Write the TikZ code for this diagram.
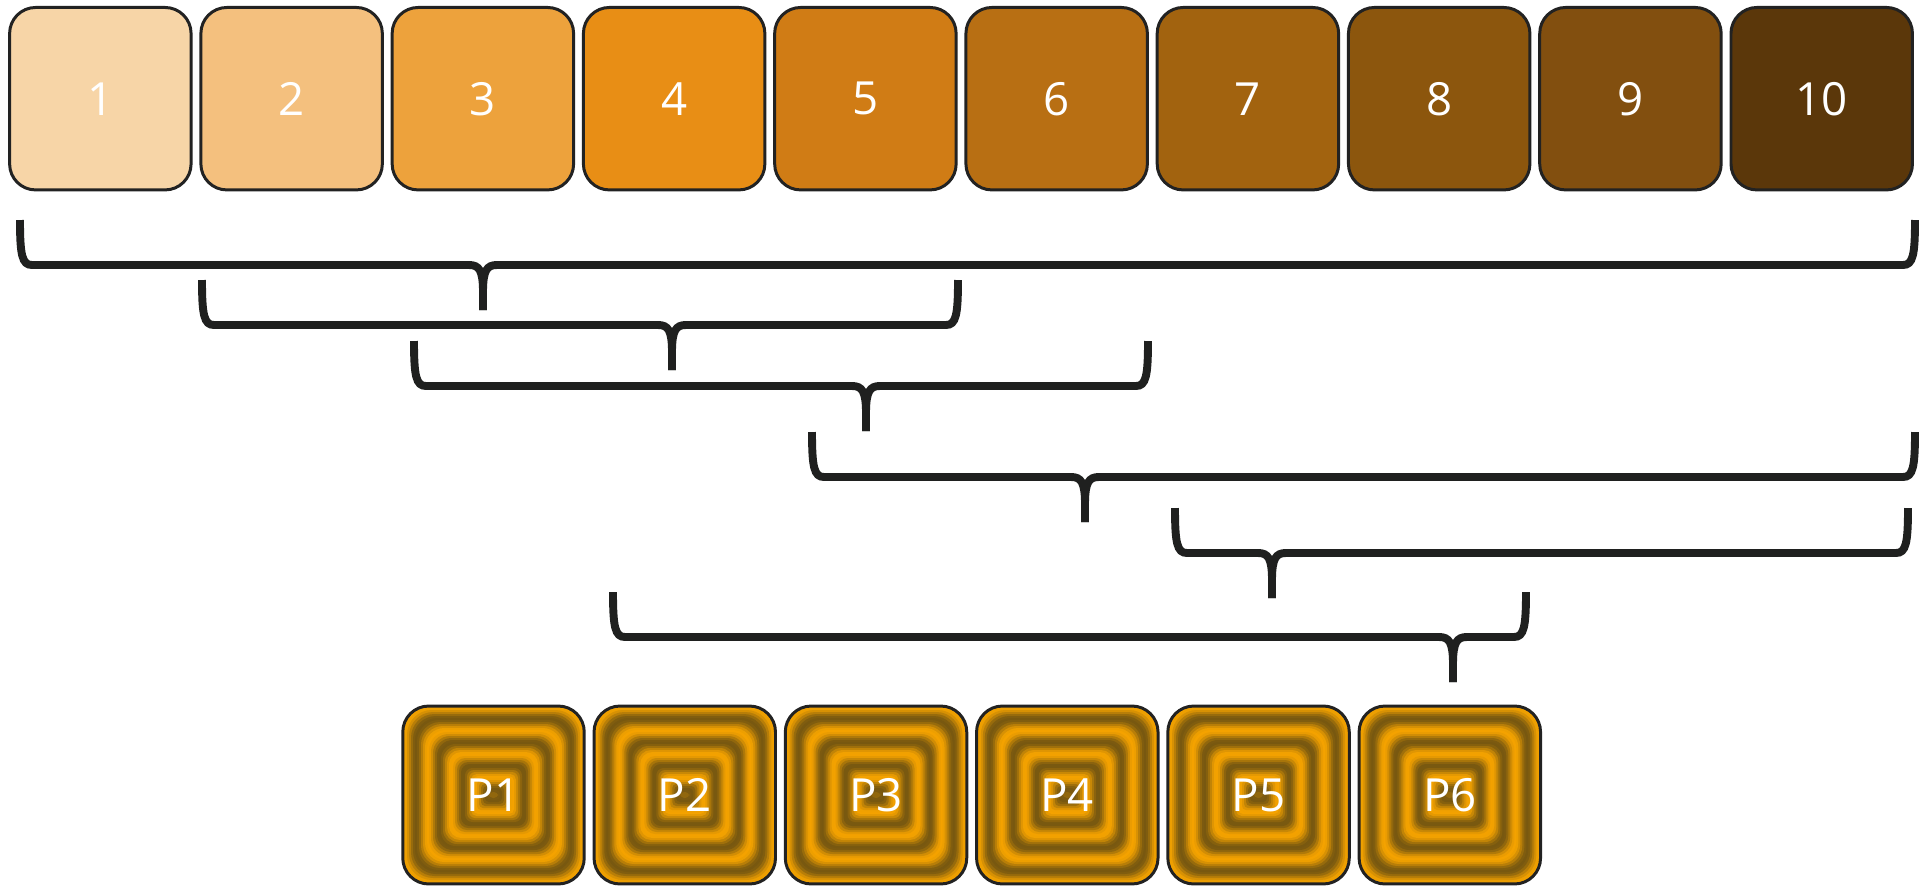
\documentclass[tikz,border=0pt]{standalone}
\usepackage{fontspec}
\setmainfont{Open Sans}
\usepackage{xcolor}
\usetikzlibrary{positioning, backgrounds}

\definecolor{tone1}{HTML}{F7D5A7}
\definecolor{tone2}{HTML}{F4C07E}
\definecolor{tone3}{HTML}{EDA23C}
\definecolor{tone4}{HTML}{E88E15}
\definecolor{tone5}{HTML}{D07C15}
\definecolor{tone6}{HTML}{B86F13}
\definecolor{tone7}{HTML}{A2630F}
\definecolor{tone8}{HTML}{8C560D}
\definecolor{tone9}{HTML}{824F0F}
\definecolor{tone10}{HTML}{5B370A}
\definecolor{ringlight}{HTML}{F5A300}
\definecolor{ringdark}{HTML}{785810}
\definecolor{boxline}{HTML}{222222}
\definecolor{braceline}{HTML}{1F201F}

\begin{document}
\begin{tikzpicture}[
    x=0.02cm, y=-0.02cm,
    numbox/.style={rectangle, draw=boxline, line width=1.7pt, rounded corners=0.52cm, minimum width=3.63cm, minimum height=3.65cm, outer sep=0pt, text=white, font=\fontsize{26}{30}\selectfont},
    pbox/.style={numbox, minimum height=3.56cm},
    brace/.style={draw=braceline, line width=4.5pt, line cap=butt}
]
\useasboundingbox (0,0) rectangle (1921,886);

% Top row: ten shaded blocks
\node[numbox, fill=tone1] (n1) at (100.35,98.7) {1};
\foreach \i [remember=\i as \prev (initially 1)] in {2,...,10}
    \node[numbox, fill=tone\i, right=0.196cm of n\prev] (n\i) {\i};

% Braces (left / right / tip / top)
\foreach \lx/\rx/\tx/\ty in {20/1915/483/220, 202/958/672/280, 414/1148/866/341,
                             812/1915/1085/432, 1175/1908/1272/508, 613/1526/1453/592} {
    \draw[brace] (\lx,\ty) .. controls (\lx,\ty+35) and (\lx+2,\ty+45) .. (\lx+12,\ty+45)
        -- (\tx-14,\ty+45) .. controls (\tx-4,\ty+45) and (\tx,\ty+50) .. (\tx,\ty+72) -- (\tx,\ty+90);
    \draw[brace] (\rx,\ty) .. controls (\rx,\ty+35) and (\rx-2,\ty+45) .. (\rx-12,\ty+45)
        -- (\tx+14,\ty+45) .. controls (\tx+4,\ty+45) and (\tx,\ty+50) .. (\tx,\ty+72) -- (\tx,\ty+90);
}

% Bottom row: P blocks with ring fill
\node[pbox] (p1) at (493.5,795) {P1};
\foreach \i [remember=\i as \prev (initially 1)] in {2,...,6}
    \node[pbox, right=0.196cm of p\prev] (p\i) {P\i};

\foreach \i in {1,...,6} {
    \begin{scope}[on background layer, shift={(p\i.center)}]
        \foreach \d in {0,2,...,86} {
            \pgfmathtruncatemacro\mixv{50-50*cos(15.32*(\d-12))}
            \pgfmathsetmacro\rad{max(0.52-0.006*\d,0.08)}
            \fill[ringlight!\mixv!ringdark, rounded corners=\rad cm]
                (-90.5+\d,-89+\d) rectangle (90.5-\d,89-\d);
        }
    \end{scope}
}

\end{tikzpicture}
\end{document}
